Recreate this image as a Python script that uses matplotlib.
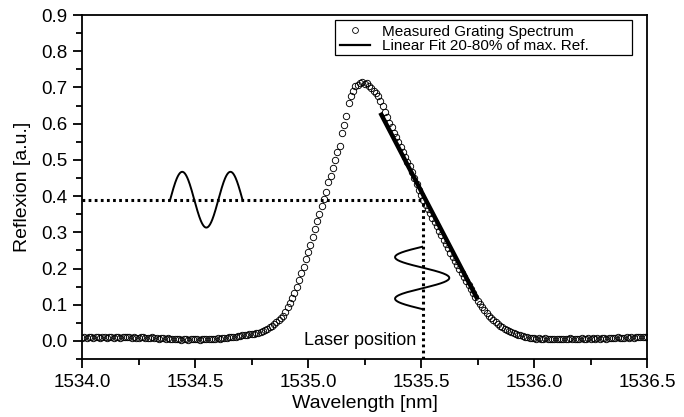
import numpy as np
import matplotlib
matplotlib.use("Agg")
import matplotlib.pyplot as plt
from matplotlib.lines import Line2D
from matplotlib.patches import Rectangle

plt.rcParams['font.family'] = ['Liberation Sans', 'DejaVu Sans']

# measured grating spectrum, sampled every 0.01 nm from 1534.0 to 1536.5
wl_start, wl_stop, n_pts = 1534.0, 1536.5, 251
reflexion = [
    0.009, 0.011, 0.008, 0.010, 0.012, 0.009, 0.010, 0.011, 0.008, 0.010,  # 1534.0
    0.011, 0.009, 0.012, 0.010, 0.008, 0.011, 0.010, 0.009, 0.011, 0.010,  # 1534.1
    0.010, 0.012, 0.009, 0.011, 0.009, 0.008, 0.010, 0.011, 0.009, 0.008,  # 1534.2
    0.009, 0.010, 0.007, 0.008, 0.006, 0.008, 0.007, 0.006, 0.008, 0.006,  # 1534.3
    0.005, 0.006, 0.004, 0.005, 0.003, 0.005, 0.004, 0.003, 0.005, 0.004,  # 1534.4
    0.004, 0.005, 0.003, 0.005, 0.004, 0.006, 0.005, 0.004, 0.006, 0.005,  # 1534.5
    0.007, 0.006, 0.008, 0.009, 0.008, 0.010, 0.011, 0.010, 0.012, 0.013,  # 1534.6
    0.014, 0.015, 0.016, 0.017, 0.018, 0.019, 0.020, 0.021, 0.023, 0.025,  # 1534.7
    0.027, 0.031, 0.034, 0.038, 0.041, 0.046, 0.051, 0.057, 0.063, 0.070,  # 1534.8
    0.080, 0.093, 0.105, 0.118, 0.131, 0.150, 0.168, 0.187, 0.205, 0.226,  # 1534.9
    0.246, 0.265, 0.287, 0.309, 0.331, 0.350, 0.372, 0.391, 0.410, 0.440,  # 1535.0
    0.455, 0.478, 0.500, 0.523, 0.539, 0.575, 0.597, 0.620, 0.658, 0.675,  # 1535.1
    0.690, 0.704, 0.707, 0.711, 0.716, 0.710, 0.713, 0.704, 0.698, 0.689,  # 1535.2
    0.684, 0.675, 0.662, 0.648, 0.632, 0.617, 0.603, 0.590, 0.575, 0.562,  # 1535.3
    0.548, 0.535, 0.522, 0.509, 0.495, 0.482, 0.466, 0.450, 0.434, 0.418,  # 1535.4
    0.402, 0.389, 0.376, 0.364, 0.352, 0.340, 0.328, 0.316, 0.304, 0.292,  # 1535.5
    0.280, 0.268, 0.256, 0.244, 0.232, 0.220, 0.209, 0.198, 0.187, 0.176,  # 1535.6
    0.165, 0.154, 0.143, 0.132, 0.121, 0.110, 0.101, 0.093, 0.085, 0.077,  # 1535.7
    0.070, 0.064, 0.058, 0.053, 0.047, 0.042, 0.038, 0.034, 0.030, 0.027,  # 1535.8
    0.024, 0.021, 0.019, 0.017, 0.015, 0.013, 0.012, 0.011, 0.009, 0.008,  # 1535.9
    0.008, 0.006, 0.007, 0.005, 0.006, 0.007, 0.005, 0.006, 0.004, 0.006,  # 1536.0
    0.005, 0.006, 0.004, 0.005, 0.006, 0.005, 0.007, 0.005, 0.006, 0.005,  # 1536.1
    0.006, 0.007, 0.005, 0.006, 0.008, 0.006, 0.007, 0.005, 0.007, 0.006,  # 1536.2
    0.007, 0.008, 0.006, 0.008, 0.009, 0.007, 0.008, 0.010, 0.008, 0.009,  # 1536.3
    0.009, 0.010, 0.008, 0.011, 0.009, 0.010, 0.012, 0.010, 0.011, 0.010,  # 1536.4
    0.012,                                                                  # 1536.5
]
wavelength = np.linspace(wl_start, wl_stop, n_pts)

# linear fit 20-80% of max reflexion (end points)
fit_wl = [1535.32, 1535.75]
fit_r = [0.630, 0.115]

# laser operating point
laser_wl = 1535.51
laser_r = 0.39

# schematic modulation sketches
wave_h_wl = (1534.39, 1534.71)   # wavelength span of the horizontal sketch
wave_h_amp = 0.077
wave_v_r = (0.26, 0.088)         # reflexion span of the vertical sketch
wave_v_amp = 0.12

fig = plt.figure(figsize=(6.84, 4.17), dpi=100)
ax = fig.add_axes([0.1199, 0.139, 0.8261, 0.825])

ax.plot(wavelength, reflexion, 'o', mfc='none', mec='black', mew=0.65, ms=4.6, zorder=3)
ax.plot(fit_wl, fit_r, '-', color='black', lw=3.2, zorder=4, solid_capstyle='butt')

dots = dict(color='black', lw=2.2, linestyle=(0, (0.9, 1.1)), dash_capstyle='butt', zorder=2)
ax.plot([wl_start, laser_wl], [laser_r, laser_r], **dots)
ax.plot([laser_wl, laser_wl], [-0.05, laser_r], **dots)

ph = np.linspace(0, 3 * np.pi, 200)
ax.plot(np.linspace(*wave_h_wl, 200), laser_r + wave_h_amp * np.sin(ph), color='black', lw=1.4)
ax.plot(laser_wl - 0.005 - wave_v_amp * np.sin(ph), np.linspace(*wave_v_r, 200), color='black', lw=1.4)

ax.text(1535.48, 0.0, 'Laser position', ha='right', va='center', fontsize=13)

ax.set_xlim(1534.0, 1536.5)
ax.set_ylim(-0.05, 0.9)
ax.set_xticks(np.arange(1534.0, 1536.51, 0.5))
ax.set_xticks(np.arange(1534.25, 1536.5, 0.5), minor=True)
ax.set_yticks(np.arange(0.0, 0.91, 0.1))
ax.set_yticks(np.arange(-0.05, 0.9, 0.1), minor=True)
ax.xaxis.set_major_formatter(plt.FormatStrFormatter('%.1f'))
ax.yaxis.set_major_formatter(plt.FormatStrFormatter('%.1f'))
ax.tick_params(which='major', direction='out', length=6.5, width=1.3, labelsize=13.5, pad=4)
ax.tick_params(which='minor', direction='out', length=4, width=1.3)
for s in ax.spines.values():
    s.set_linewidth(1.3)

ax.set_xlabel('Wavelength [nm]', fontsize=14, labelpad=3)
ax.set_ylabel('Reflexion [a.u.]', fontsize=14, labelpad=7)

# legend box drawn separately (it has extra room on the right)
ax.add_patch(Rectangle((0.448, 0.884), 0.525, 0.1015, transform=ax.transAxes,
                       fill=True, facecolor='white', edgecolor='black', lw=0.9, zorder=5))
handles = [Line2D([], [], ls='none', marker='o', mfc='none', mec='black', mew=0.6, ms=4.2),
           Line2D([], [], color='black', lw=1.6)]
leg = ax.legend(handles, ['Measured Grating Spectrum', 'Linear Fit 20-80% of max. Ref.'],
                loc='upper left', bbox_to_anchor=(0.448, 0.9855), borderaxespad=0,
                fontsize=11, frameon=False, handlelength=2.0, handletextpad=0.75,
                labelspacing=0.05, borderpad=0.3)
leg.set_zorder(6)

fig.savefig('out.png', dpi=100)
